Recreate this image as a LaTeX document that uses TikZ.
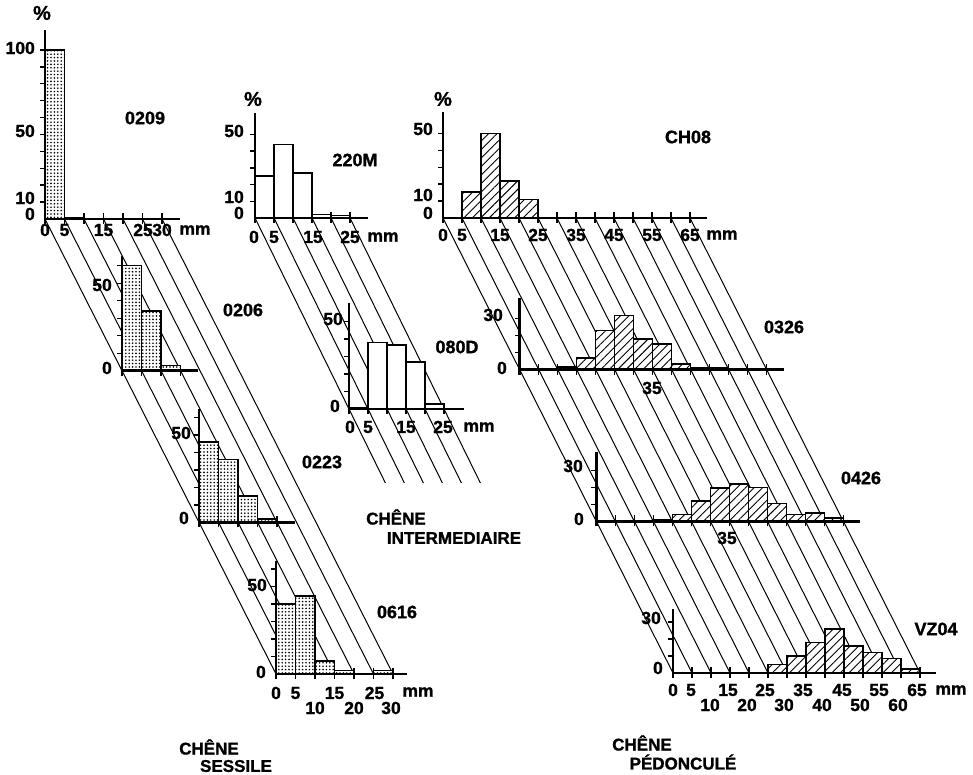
\documentclass[tikz,border=0pt]{standalone}
\usepackage{fontspec}
\setmainfont{Liberation Sans}[BoldFeatures={FakeBold=1.2}]
\usetikzlibrary{patterns.meta}
\newcommand\chartaxes[4]{%
  \draw[axis] (0,#2) -- (0,0) -- (#1,0);
  \draw[axis] (0,0) -- ++(0pt,-5pt);
  \foreach \v in {#3} \draw[tk] (0,\v) -- ++(-5pt,0pt);
  \foreach \u in {#4} \draw[tk] (\u,0) ++(0pt,-5pt) -- ++(0pt,11pt);
}
\begin{document}
\begin{tikzpicture}[x=1pt,y=-1pt,
  axis/.style={line width=2.6pt,line join=miter},
  tk/.style={line width=1.4pt},
  obl/.style={line width=1pt},
  barb/.style={line width=1.5pt, preaction={fill=white}},
  stip/.style={barb, pattern={Dots[distance=3.4pt, radius=0.9pt]}},
  hatch/.style={barb, pattern={Lines[angle=45, distance=6pt, line width=0.9pt]}},
  plain/.style={line width=1.5pt, fill=white},
  lbl/.style={font=\bfseries\fontsize{17.5}{17.5}\selectfont, inner sep=0pt},
  idl/.style={font=\bfseries\fontsize{18}{18}\selectfont, inner sep=0pt},
  ttl/.style={font=\bfseries\fontsize{17}{17}\selectfont, inner sep=0pt},
  pct/.style={font=\bfseries\fontsize{20}{20}\selectfont, inner sep=0pt},
]
\useasboundingbox (0,0) rectangle (973,775);
\fill[white] (0,0) rectangle (973,775);

% origins
\coordinate (s1) at (45,219);
\coordinate (s2) at (122,370.7);
\coordinate (s3) at (199,522.3);
\coordinate (s4) at (276,674);
\coordinate (m1) at (255,218);
\coordinate (m2) at (349,409);
\coordinate (mEnd) at (385.4,483);
\coordinate (p1) at (443,218);
\coordinate (p2) at (519.7,369.7);
\coordinate (p3) at (596.3,521.3);
\coordinate (p4) at (673,673);

% oblique guide lines
\foreach \k in {0,...,6} \draw[obl] ([xshift=\k*19.5pt]s1) -- ([xshift=\k*19.5pt]s4);
\foreach \k in {0,...,5} \draw[obl] ([xshift=\k*19pt]m1) -- ([xshift=\k*19pt]mEnd);
\foreach \k in {0,...,13} \draw[obl] ([xshift=\k*19pt]p1) -- ([xshift=\k*19pt]p4);

% ---- sessile ----
\begin{scope}[shift={(s1)},x=3.9pt,y=1.69pt]
  \foreach \a/\h in {0/100,5/1} \draw[stip] (\a,0) rectangle ++(5,\h);
  \chartaxes{34.6}{111.8}{10,20,...,100}{5,10,...,30}
\end{scope}
\begin{scope}[shift={(s2)},x=3.9pt,y=1.75pt]
  \foreach \a/\h in {0/60,5/34,10/3} \draw[stip] (\a,0) rectangle ++(5,\h);
  \chartaxes{19.5}{65.7}{10,20,...,60}{5,10,15}
\end{scope}
\begin{scope}[shift={(s3)},x=3.9pt,y=1.75pt]
  \foreach \a/\h in {0/46,5/36,10/15,15/2} \draw[stip] (\a,0) rectangle ++(5,\h);
  \chartaxes{24.6}{64.6}{10,20,...,60}{5,10,...,20}
\end{scope}
\begin{scope}[shift={(s4)},x=3.9pt,y=1.75pt]
  \foreach \a/\h in {0/40,5/44.5,10/7.5,15/2,25/2} \draw[stip] (\a,0) rectangle ++(5,\h);
  \chartaxes{33.6}{64.6}{10,20,...,60}{5,10,...,30}
\end{scope}

% ---- intermediate ----
\begin{scope}[shift={(m1)},x=3.8pt,y=1.67pt]
  \foreach \a/\h in {0/25,5/44,10/27,15/2,20/1.5} \draw[plain] (\a,0) rectangle ++(5,\h);
  \chartaxes{29.7}{63}{10,20,...,50}{5,10,...,25}
\end{scope}
\begin{scope}[shift={(m2)},x=3.8pt,y=1.75pt]
  \foreach \a/\h in {0/1,5/38,10/36.5,15/27,20/3} \draw[plain] (\a,0) rectangle ++(5,\h);
  \chartaxes{30.3}{60.5}{10,20,...,50}{5,10,...,25}
\end{scope}

% ---- pedunculate ----
\begin{scope}[shift={(p1)},x=3.8pt,y=1.69pt]
  \foreach \a/\h in {5/15.4,10/50,15/22,20/11} \draw[hatch] (\a,0) rectangle ++(5,\h);
  \chartaxes{69.5}{62.7}{10,20,...,50}{5,10,...,65}
\end{scope}
\begin{scope}[shift={(p2)},x=3.8pt,y=1.7pt]
  \foreach \a/\h in {10/1.5,15/7,20/23,25/32,30/18,35/15,40/3.5,45/1,50/1} \draw[hatch] (\a,0) rectangle ++(5,\h);
  \chartaxes{69.5}{42}{10,20,30}{5,10,...,65}
\end{scope}
\begin{scope}[shift={(p3)},x=3.8pt,y=1.7pt]
  \foreach \a/\h in {15/1,20/4,25/12,30/19.5,35/22,40/20,45/10.5,50/4,55/5,60/2} \draw[hatch] (\a,0) rectangle ++(5,\h);
  \chartaxes{69.5}{41}{10,20,30}{5,10,...,65}
\end{scope}
\begin{scope}[shift={(p4)},x=3.8pt,y=1.7pt]
  \foreach \a/\h in {25/5,30/10,35/18,40/26,45/16,50/12,55/8.5,60/2.5} \draw[hatch] (\a,0) rectangle ++(5,\h);
  \chartaxes{69.2}{37.6}{10,20,30}{5,10,...,65}
\end{scope}

% ---- labels: sessile ----
\node[pct] (pcS) at (42,13) {\%};
\foreach \t/\yy in {100/48,50/131,10/198,0/214} \node[lbl,anchor=east] (sAy\t) at (35,\yy) {\t};
\foreach \t/\xx in {0/45,5/64.5,15/103.5,25/143,30/162} \node[lbl] (sAx\t) at (\xx,230) {\t};
\node[lbl] (sAmm) at (195,230) {mm};
\node[idl] (n0209) at (145,118) {0209};
\node[lbl,anchor=east] (sBy50) at (112,285) {50};
\node[lbl,anchor=east] (sBy0) at (112,368) {0};
\node[idl] (n0206) at (243,310) {0206};
\node[lbl,anchor=east] (sCy50) at (191,433) {50};
\node[lbl,anchor=east] (sCy0) at (189,518) {0};
\node[idl] (n0223) at (322,462) {0223};
\node[lbl,anchor=east] (sDy50) at (267,585) {50};
\node[lbl,anchor=east] (sDy0) at (266,672) {0};
\foreach \t/\xx in {0/276,5/295.5,15/334.5,25/374.5} \node[lbl] (sDx\t) at (\xx,693) {\t};
\foreach \t/\xx in {10/315,20/354,30/391} \node[lbl] (sDx\t) at (\xx,708) {\t};
\node[lbl] (sDmm) at (418,692) {mm};
\node[idl] (n0616) at (397,612) {0616};
\node[ttl] (tS1) at (209,747) {CHÊNE};
\node[ttl] (tS2) at (236,766) {SESSILE};

% ---- labels: intermediate ----
\node[pct] (pcM) at (253,99) {\%};
\foreach \t/\yy in {50/131,10/197,0/213} \node[lbl,anchor=east] (mAy\t) at (244,\yy) {\t};
\foreach \t/\xx in {0/254,5/274,15/313,25/350} \node[lbl] (mAx\t) at (\xx,237) {\t};
\node[lbl] (mAmm) at (383,237) {mm};
\node[idl] (n220M) at (355,160) {220M};
\node[lbl,anchor=east] (mBy50) at (343,319) {50};
\node[lbl,anchor=east] (mBy0) at (340,406) {0};
\foreach \t/\xx in {0/350,5/368,15/406,25/443} \node[lbl] (mBx\t) at (\xx,427) {\t};
\node[lbl] (mBmm) at (479,427) {mm};
\node[idl] (n080D) at (457,347) {080D};
\node[ttl] (tM1) at (396,517) {CHÊNE};
\node[ttl] (tM2) at (454,538) {INTERMEDIAIRE};

% ---- labels: pedunculate ----
\node[pct] (pcP) at (443,99) {\%};
\foreach \t/\yy in {50/129,10/195,0/213} \node[lbl,anchor=east] (pAy\t) at (433,\yy) {\t};
\foreach \t/\xx in {0/443,5/462,15/500,25/538,35/576,45/614,55/652,65/690} \node[lbl] (pAx\t) at (\xx,235) {\t};
\node[lbl] (pAmm) at (722,235) {mm};
\node[idl] (nCH08) at (688,137) {CH08};
\node[lbl,anchor=east] (pBy30) at (503,315) {30};
\node[lbl,anchor=east] (pBy0) at (507,368) {0};
\node[lbl] (pBx35) at (652,388) {35};
\node[idl] (n0326) at (784,327) {0326};
\node[lbl,anchor=east] (pCy30) at (583,466) {30};
\node[lbl,anchor=east] (pCy0) at (584,519) {0};
\node[lbl] (pCx35) at (727,538) {35};
\node[idl] (n0426) at (861,478) {0426};
\node[lbl,anchor=east] (pDy30) at (661,618) {30};
\node[lbl,anchor=east] (pDy0) at (663,668) {0};
\foreach \t/\xx in {0/673,5/691,15/728,25/765,35/803,45/842,55/879,65/917} \node[lbl] (pDx\t) at (\xx,690) {\t};
\foreach \t/\xx in {10/710,20/747,30/784,40/822,50/860,60/898} \node[lbl] (pDx\t) at (\xx,705) {\t};
\node[lbl] (pDmm) at (951,690) {mm};
\node[idl] (nVZ04) at (936,629) {VZ04};
\node[ttl] (tP1) at (642,743) {CHÊNE};
\node[ttl] (tP2) at (683,762) {PÉDONCULÉ};
\end{tikzpicture}
\end{document}
